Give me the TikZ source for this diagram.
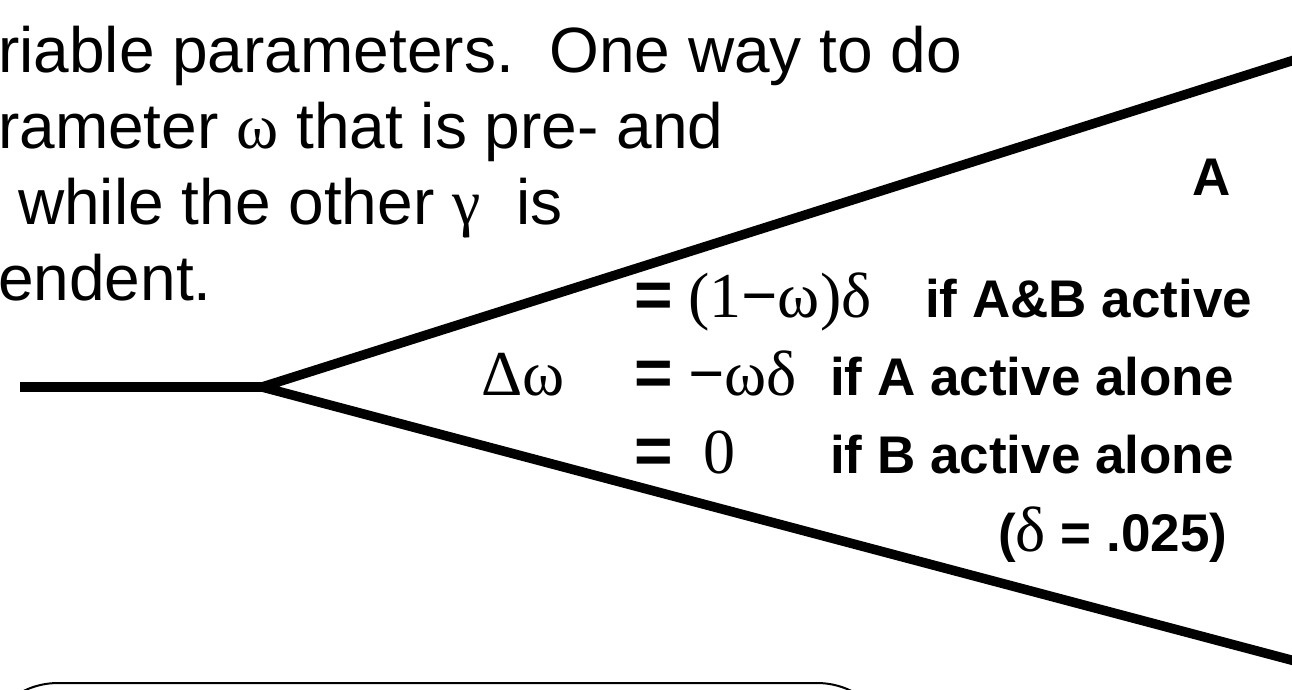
\documentclass[tikz,border=0pt]{standalone}
\usepackage{fontspec}
\setmainfont{Liberation Sans}
\newfontfamily\grk{Liberation Serif}

\newcommand{\txtsize}{\fontsize{64}{64}\selectfont}
\newcommand{\condsize}{\fontsize{53}{53}\selectfont\bfseries}
\newcommand{\symsize}{\fontsize{64}{64}\selectfont\grk}
\newcommand{\eqsize}{\fontsize{66}{66}\selectfont\bfseries}

\begin{document}
\begin{tikzpicture}[x=1pt,y=-1pt,
  branch/.style={line width=9.5pt},
  boxline/.style={line width=2pt,rounded corners=78pt},
  plain/.style={anchor=base west,inner sep=0pt,font=\txtsize},
  cond/.style={anchor=base west,inner sep=0pt,font=\condsize},
  sym/.style={anchor=base west,inner sep=0pt,font=\symsize},
  eqsign/.style={anchor=base west,inner sep=0pt,font=\eqsize}]
\useasboundingbox (0,0) rectangle (1292,689);
\clip (0,0) rectangle (1292,689);
\fill[white] (0,0) rectangle (1292,689);

% text block, cut at the left edge
\node[plain] (line1) at (-2,72) {riable parameters.\ \ One way to do};
\node[plain] (line2) at (-2,148) {rameter {\grk ω} that is pre- and};
\node[plain] (line3) at (18,224) {while the other {\grk γ}\ \ is};
\node[plain] (line4) at (-2,300) {endent.};

% the fork
\coordinate (stem) at (20,387);
\coordinate (fork) at (262,387);
\coordinate (upper) at (1310,55);
\coordinate (lower) at (1310,665);
\draw[branch] (stem) -- (fork);
\draw[branch] (upper) -- (fork) -- (lower);
\node[cond] (labA) at (1192,195) {A};

% update rule
\node[sym,anchor=base east] (dw) at (565,395) {Δω};
\node[eqsign] (eq1) at (634,317) {=};
\node[sym] (r1) at (688,317) {(1{\bfseries −}ω)δ};
\node[cond] (c1) at (925,317) {if A\&B active};
\node[eqsign] (eq2) at (634,395) {=};
\node[sym] (r2) at (688,395) {{\bfseries −}ωδ};
\node[cond] (c2) at (830,395) {if A active alone};
\node[eqsign] (eq3) at (634,473) {=};
\node[sym] (r3) at (703,473) {0};
\node[cond] (c3) at (830,473) {if B active alone};
\node[cond] (rate) at (998,551) {({\symsize\mdseries δ} = .025)};

% box at the bottom
\draw[boxline] (-20,683) rectangle (895,800);
\end{tikzpicture}
\end{document}
